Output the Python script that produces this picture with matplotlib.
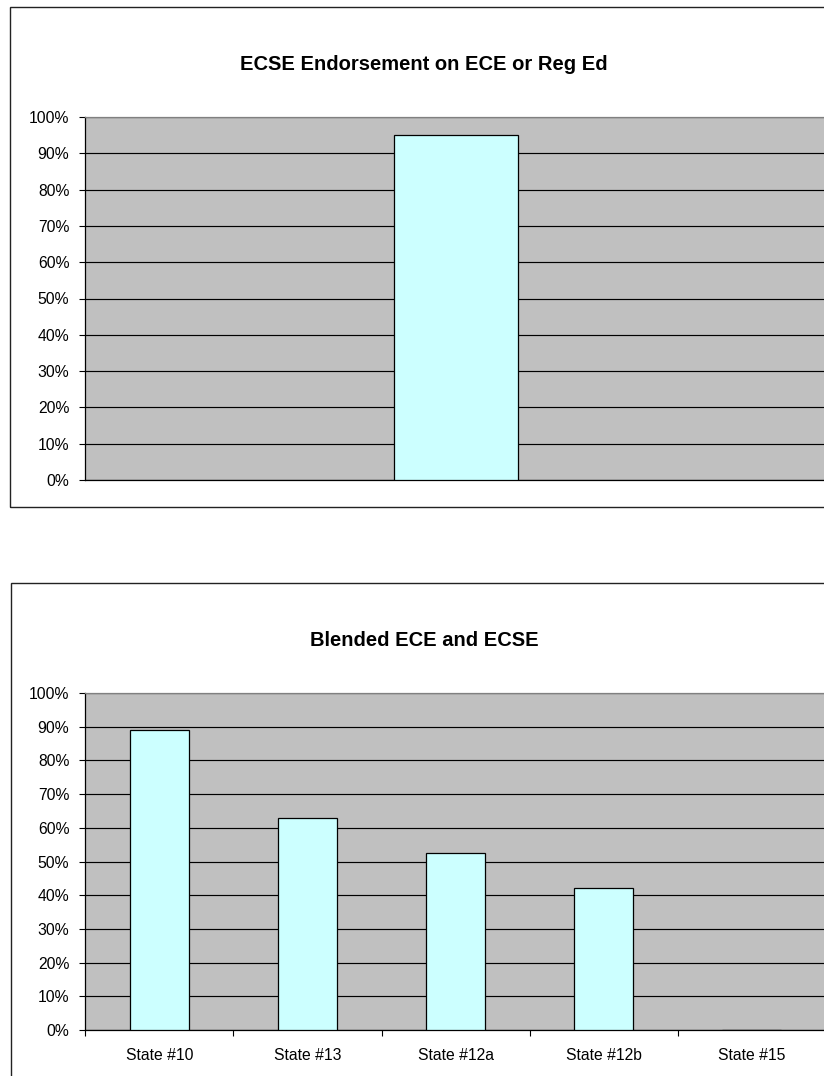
import matplotlib
matplotlib.use("Agg")
import matplotlib.pyplot as plt
from matplotlib.patches import Rectangle
from matplotlib.ticker import PercentFormatter, FixedLocator, NullFormatter

plt.rcParams['font.family'] = ['Liberation Sans', 'DejaVu Sans']

# ---- data ----
top_title = "ECSE Endorsement on ECE or Reg Ed"
top_categories = [""]
top_values = [95]

bottom_title = "Blended ECE and ECSE"
bottom_categories = ["State #10", "State #13", "State #12a", "State #12b", "State #15"]
bottom_values = [89, 63, 52.5, 42, 0]

yticks = [0, 10, 20, 30, 40, 50, 60, 70, 80, 90, 100]

W, H = 824, 1076
fig = plt.figure(figsize=(W / 100, H / 100), dpi=100)


def fx(x):
    return x / W


def fy(y):
    return 1 - y / H


def add_box(x0, y0, x1, y1):
    r = Rectangle((fx(x0), fy(y1)), fx(x1) - fx(x0), fy(y0) - fy(y1),
                  transform=fig.transFigure, fill=False, edgecolor='#222222',
                  linewidth=1.0, zorder=0)
    fig.patches.append(r)


def make_axes(x0, x1, ytop, ybot):
    ax = fig.add_axes([fx(x0), fy(ybot), fx(x1) - fx(x0), fy(ytop) - fy(ybot)])
    ax.set_facecolor('#C0C0C0')
    ax.set_ylim(0, 100)
    ax.yaxis.set_major_locator(FixedLocator(yticks))
    ax.yaxis.set_major_formatter(PercentFormatter(decimals=0))
    ax.grid(axis='y', color='black', linewidth=0.85, zorder=1)
    ax.set_axisbelow(True)
    ax.spines['top'].set_color('#808080')
    ax.spines['right'].set_color('#808080')
    ax.spines['left'].set_color('black')
    ax.spines['bottom'].set_color('black')
    for s in ax.spines.values():
        s.set_linewidth(0.9)
    ax.tick_params(axis='y', direction='out', length=4.5, width=0.8,
                   labelsize=11.3, pad=7, colors='black')
    return ax


# ---- top chart ----
add_box(10, 7, 840, 507)
ax1 = make_axes(85.3, 825.8, 117, 480)
x1 = list(range(len(top_categories)))
ax1.bar(x1, top_values, width=0.1675, color='#CCFFFF', edgecolor='black',
        linewidth=0.9, zorder=3)
ax1.set_xlim(-0.5, len(top_categories) - 0.5)
ax1.set_xticks([])
fig.text(fx(424), fy(64), top_title, ha='center', va='center',
         fontsize=14.5, fontweight='bold')

# ---- bottom chart ----
add_box(11, 583, 840, 1090)
ax2 = make_axes(85.3, 825.8, 693, 1030)
x2 = list(range(len(bottom_categories)))
ax2.bar(x2, bottom_values, width=0.4, color='#CCFFFF', edgecolor='black',
        linewidth=0.9, zorder=3)
ax2.set_xlim(-0.5, len(bottom_categories) - 0.5)
ax2.set_xticks([i - 0.5 for i in range(len(bottom_categories) + 1)])
ax2.xaxis.set_major_formatter(NullFormatter())
ax2.set_xticks(x2, minor=True)
ax2.set_xticklabels(bottom_categories, minor=True)
ax2.tick_params(axis='x', which='major', direction='out', length=4.5, width=0.8)
ax2.tick_params(axis='x', which='minor', length=0, labelsize=11.3, pad=13)
fig.text(fx(424), fy(640), bottom_title, ha='center', va='center',
         fontsize=14.5, fontweight='bold')

fig.savefig('out.png', dpi=100)
